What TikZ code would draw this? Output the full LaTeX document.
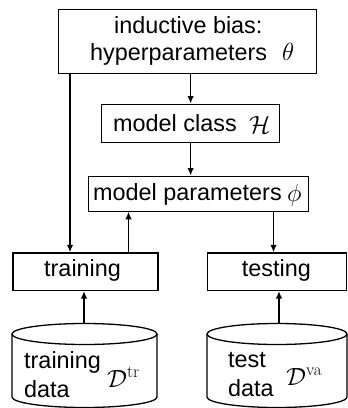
\documentclass[tikz,border=0pt]{standalone}
\usepackage[no-math]{fontspec}
\setmainfont{Liberation Sans}
\usetikzlibrary{arrows.meta}
\begin{document}
\begin{tikzpicture}[x=1pt,y=-1pt,
  box/.style={draw,line width=1.3pt,inner sep=0pt,anchor=north west},
  txt/.style={anchor=base west,inner sep=0pt,font=\fontsize{23.4}{27}\selectfont},
  bigm/.style={anchor=base west,inner sep=0pt,font=\fontsize{27}{30}\selectfont},
  midm/.style={anchor=base west,inner sep=0pt,font=\fontsize{24}{28}\selectfont},
  arr/.style={line width=1.3pt,-{Latex[length=7.5pt,width=6.5pt]}},
  cyl/.style={line width=1.3pt}]
\useasboundingbox (0,0) rectangle (348,408);
% boxes
\node[box,minimum width=258pt,minimum height=64pt] (top) at (58,9) {};
\node[box,minimum width=178pt,minimum height=38pt] (cls) at (101,103.5) {};
\node[box,minimum width=220pt,minimum height=35pt] (par) at (88,175.5) {};
\node[box,minimum width=145pt,minimum height=37.5pt] (train) at (12.3,252.3) {};
\node[box,minimum width=139pt,minimum height=37.5pt] (test) at (207,252.3) {};
% texts
\node[txt] (t1) at (114,33) {inductive bias:};
\node[txt] (t2) at (90,60) {hyperparameters};
\node[bigm] (theta) at (282,60) {$\theta$};
\node[txt] (t3) at (113,131.7) {model class};
\node[midm] (H) at (249,133) {$\mathcal{H}$};
\node[txt] (t4) at (93,200) {model parameters};
\node[bigm] (phi) at (287,201) {$\phi$};
\node[txt] (t5) at (44,276.7) {training};
\node[txt] (t6) at (241.7,276.3) {testing};
% cylinders
\draw[cyl] (84.5,334) ellipse[x radius=72.5,y radius=10.5];
\draw[cyl] (12,334) -- (12,397) arc[start angle=180,end angle=0,x radius=72.5,y radius=10.5] -- (157,334);
\draw[cyl] (277,334) ellipse[x radius=70,y radius=10.5];
\draw[cyl] (207,334) -- (207,397) arc[start angle=180,end angle=0,x radius=70,y radius=10.5] -- (347,334);
\coordinate (dtr) at (84,323.5);
\coordinate (dva) at (279,323.5);
\node[txt] (c1) at (24,368) {training};
\node[txt] (c2) at (24,397) {data};
\node[midm] (Dtr) at (107,387) {$\mathcal{D}^{\mathrm{tr}}$};
\node[txt] (c3) at (228,367.7) {test};
\node[txt] (c4) at (228,396.7) {data};
\node[midm] (Dva) at (286,385) {$\mathcal{D}^{\mathrm{va}}$};
% connectors
\coordinate (lx) at (70,0);
\coordinate (px) at (128.5,0);
\coordinate (qx) at (273.5,0);
\draw[arr] (top.south -| cls.north) -- (cls.north);
\draw[arr] (cls.south) -- (cls.south |- par.north);
\draw[arr] (top.south -| lx) -- (train.north -| lx);
\draw[arr] (train.north -| px) -- (par.south -| px);
\draw[arr] (par.south -| qx) -- (test.north -| qx);
\draw[arr] (dtr) -- (train.south -| dtr);
\draw[arr] (dva) -- (test.south -| dva);
\end{tikzpicture}
\end{document}
